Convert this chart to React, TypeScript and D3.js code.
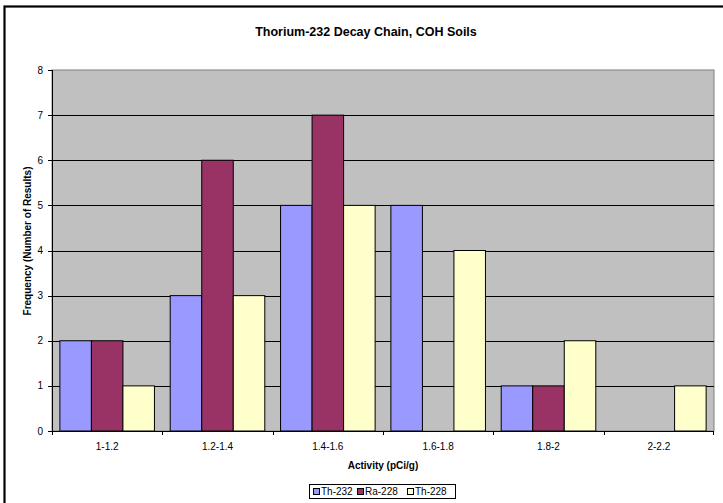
import React from "react";
import * as d3 from "d3";

const categories = ["1-1.2", "1.2-1.4", "1.4-1.6", "1.6-1.8", "1.8-2", "2-2.2"];
const seriesNames = ["Th-232", "Ra-228", "Th-228"];
const th232 = [2, 3, 5, 5, 1, 0];
const ra228 = [2, 6, 7, 0, 1, 0];
const th228 = [1, 3, 5, 4, 2, 1];
const seriesColors = ["#9999FF", "#993366", "#FFFFCC"];
const yTicks = [0, 1, 2, 3, 4, 5, 6, 7, 8];

const W = 723;
const H = 503;
const plot = { left: 52, right: 714, top: 70, bottom: 431 };
const FONT = "Arial, 'Liberation Sans', sans-serif";

export default function App() {
  const series = [th232, ra228, th228];
  const x0 = d3.scaleBand<string>().domain(categories).range([plot.left, plot.right]).paddingInner(0).paddingOuter(0);
  const bw = x0.bandwidth();
  const inner = bw / 3.5;
  const x1 = d3
    .scaleBand<string>()
    .domain(seriesNames)
    .range([(bw - inner * 3) / 2, (bw + inner * 3) / 2]);
  const y = d3.scaleLinear().domain([0, 8]).range([plot.bottom, plot.top]);

  const legendItems = [
    { name: "Th-232", x: 313 },
    { name: "Ra-228", x: 357 },
    { name: "Th-228", x: 407 },
  ];

  return (
    <svg
      width={W}
      height={H}
      style={{ position: "absolute", left: 0, top: 0, background: "#fff" }}
      fontFamily={FONT}
    >
      <rect x={0} y={0} width={W} height={H} fill="#fff" />
      {/* outer frame */}
      <rect x={4.5} y={6.5} width={740} height={520} fill="none" stroke="#000" strokeWidth={2.2} />
      <text x={366} y={36} textAnchor="middle" fontSize={12.5} fontWeight="bold">
        Thorium-232 Decay Chain, COH Soils
      </text>

      {/* plot bg */}
      <rect
        x={plot.left}
        y={plot.top}
        width={plot.right - plot.left}
        height={plot.bottom - plot.top}
        fill="#C0C0C0"
        stroke="#808080"
        strokeWidth={1}
      />
      {/* gridlines */}
      {yTicks.slice(1, -1).map((t) => (
        <line key={t} x1={plot.left} x2={plot.right} y1={Math.round(y(t)) + 0.5} y2={Math.round(y(t)) + 0.5} stroke="#000" strokeWidth={1} />
      ))}

      {/* bars */}
      {categories.map((c, ci) => (
        <g key={c} transform={`translate(${x0(c)},0)`}>
          {series.map((s, si) =>
            s[ci] > 0 ? (
              <rect
                key={si}
                x={x1(seriesNames[si])}
                y={y(s[ci])}
                width={x1.bandwidth()}
                height={y(0) - y(s[ci])}
                fill={seriesColors[si]}
                stroke="#000"
                strokeWidth={1}
              />
            ) : null
          )}
        </g>
      ))}

      {/* axes */}
      <line x1={plot.left + 0.5} x2={plot.left + 0.5} y1={plot.top} y2={plot.bottom} stroke="#000" />
      <line x1={plot.left} x2={plot.right} y1={plot.bottom + 0.5} y2={plot.bottom + 0.5} stroke="#000" />
      {yTicks.map((t) => (
        <g key={t}>
          <line x1={plot.left - 4} x2={plot.left} y1={Math.round(y(t)) + 0.5} y2={Math.round(y(t)) + 0.5} stroke="#000" />
          <text x={43} y={y(t) + 3.5} textAnchor="end" fontSize={10}>
            {t}
          </text>
        </g>
      ))}
      {categories.map((c, ci) => (
        <g key={c}>
          <line
            x1={Math.round(x0(c)!) + 0.5}
            x2={Math.round(x0(c)!) + 0.5}
            y1={plot.bottom}
            y2={plot.bottom + 4}
            stroke="#000"
          />
          <text x={x0(c)! + bw / 2} y={450} textAnchor="middle" fontSize={10}>
            {c}
          </text>
        </g>
      ))}
      <line x1={plot.right - 0.5} x2={plot.right - 0.5} y1={plot.bottom} y2={plot.bottom + 4} stroke="#000" />

      <text x={383} y={469} textAnchor="middle" fontSize={10} fontWeight="bold">
        Activity (pCi/g)
      </text>
      <text
        transform={`translate(31,241) rotate(-90)`}
        textAnchor="middle"
        fontSize={10}
        fontWeight="bold"
      >
        Frequency (Number of Results)
      </text>

      {/* legend */}
      <rect x={309.5} y={484.5} width={146} height={14} fill="#fff" stroke="#000" strokeWidth={1} />
      {legendItems.map((it, i) => (
        <g key={it.name}>
          <rect x={it.x + 0.5} y={488.5} width={6} height={6} fill={seriesColors[i]} stroke="#000" strokeWidth={1} />
          <text x={it.x + 8} y={495} fontSize={10}>
            {it.name}
          </text>
        </g>
      ))}
    </svg>
  );
}
